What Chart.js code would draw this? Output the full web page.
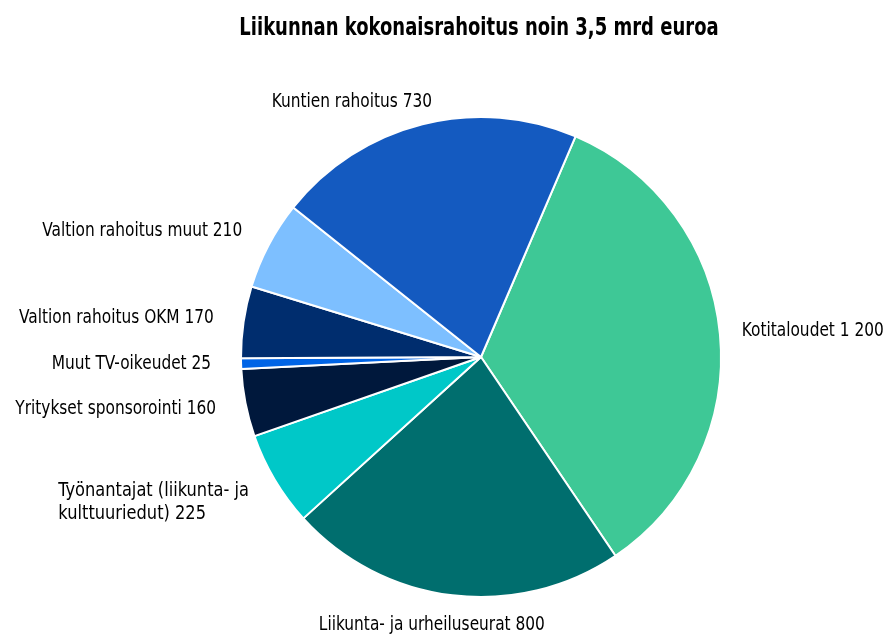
<!DOCTYPE html>
<html>
<head>
<meta charset="utf-8">
<script src="https://cdn.jsdelivr.net/npm/chart.js@4"></script>
<style>
  html, body { margin: 0; padding: 0; background: #ffffff; }
  #wrap { width: 889px; height: 634px; position: relative; }
</style>
</head>
<body>
<div id="wrap"><canvas id="pieChart" width="889" height="634"></canvas></div>
<script>
// Otsikko ja data
const chartTitle = 'Liikunnan kokonaisrahoitus noin 3,5 mrd euroa';

const categories = [
  'Kotitaloudet',
  'Liikunta- ja urheiluseurat',
  'Työnantajat (liikunta- ja|kulttuuriedut)',
  'Yritykset sponsorointi',
  'Muut TV-oikeudet',
  'Valtion rahoitus OKM',
  'Valtion rahoitus muut',
  'Kuntien rahoitus'
];
const values = [1200, 800, 225, 160, 25, 170, 210, 730];
const valueLabels = ['1 200', '800', '225', '160', '25', '170', '210', '730'];
const colors = ['#3ec896', '#006e6e', '#00c8c8', '#00183c', '#0064e6', '#002d6e', '#7dbfff', '#145ac0'];

const labelFont = '"DejaVu Sans Condensed", "DejaVu Sans", sans-serif';

// texte "condensé" : on compresse horizontalement
function narrowText(ctx, text, x, y, align, sx) {
  ctx.save();
  ctx.translate(x, y);
  ctx.scale(sx, 1);
  ctx.textAlign = align;
  ctx.fillText(text, 0, 0);
  ctx.restore();
}

// étiquettes à l'extérieur du camembert, sans traits
const outsideLabels = {
  id: 'outsideLabels',
  afterDraw(chart) {
    const ctx = chart.ctx;
    const meta = chart.getDatasetMeta(0);

    ctx.save();
    ctx.fillStyle = '#000000';
    ctx.textBaseline = 'middle';
    ctx.font = 'bold 25px ' + labelFont;
    narrowText(ctx, chartTitle, 479, 28, 'center', 0.80);

    ctx.font = '19px ' + labelFont;
    meta.data.forEach((arc, i) => {
      const mid = (arc.startAngle + arc.endAngle) / 2;
      const r = arc.outerRadius + 30;
      const c = Math.cos(mid);
      const s = Math.sin(mid);
      let x = arc.x + c * r;
      let y = arc.y + s * r;
      const lines = (categories[i] + ' ' + valueLabels[i]).split('|');
      let align = 'center';
      if (c < -0.2) align = 'right';
      else if (c > 0.2) { align = 'left'; x -= 8; }
      // étiquettes du haut et du bas
      if (Math.abs(c) < 0.3) {
        if (s < 0) { x += 17; y += 7; }
        else x -= 17;
      }
      const lh = 23;
      if (lines.length > 1) {
        // bloc de plusieurs lignes : aligné à gauche sur la ligne la plus longue
        const y0 = y - (lines.length - 1) * lh / 2 + 8;
        const w = Math.max(...lines.map(l => ctx.measureText(l).width)) * 0.95;
        lines.forEach((line, k) => narrowText(ctx, line, x - w, y0 + k * lh, 'left', 0.95));
      } else {
        narrowText(ctx, lines[0], x, y, align, 0.90);
      }
    });
    ctx.restore();
  }
};

new Chart(document.getElementById('pieChart'), {
  type: 'pie',
  data: {
    labels: categories,
    datasets: [{
      data: values,
      backgroundColor: colors,
      borderColor: '#ffffff',
      borderWidth: 2
    }]
  },
  options: {
    responsive: false,
    animation: false,
    rotation: 23.2,
    layout: { padding: { top: 116, bottom: 36, left: 240, right: 167 } },
    plugins: {
      legend: { display: false },
      title: { display: false },
      tooltip: { enabled: false }
    }
  },
  plugins: [outsideLabels]
});
</script>
</body>
</html>
